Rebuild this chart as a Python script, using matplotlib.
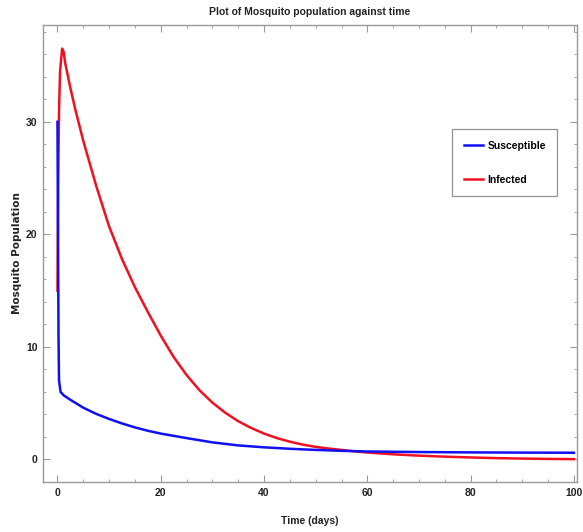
import matplotlib
matplotlib.use("Agg")
import matplotlib.pyplot as plt
from matplotlib.ticker import MultipleLocator

# Data
t_susceptible = [0, 0.1, 0.2, 0.3, 0.6, 1.2, 2.5, 5, 7.5, 10, 12.5, 15, 17.5, 20,
                 25, 30, 35, 40, 45, 50, 55, 60, 70, 80, 90, 100]
susceptible = [30, 20, 11, 7.0, 6.0, 5.7, 5.3, 4.6, 4.05, 3.6, 3.2, 2.85, 2.55, 2.3,
               1.9, 1.52, 1.25, 1.08, 0.95, 0.85, 0.77, 0.71, 0.66, 0.63, 0.61, 0.6]

t_infected = [0, 0.15, 0.3, 0.5, 0.9, 1.2, 1.5, 2.5, 3.5, 5, 7.5, 10, 12.5, 15, 17.5, 20,
              22.5, 25, 27.5, 30, 32.5, 35, 37.5, 40, 42.5, 45, 47.5, 50, 52.5, 55,
              57.5, 60, 65, 70, 75, 80, 85, 90, 95, 100]
infected = [15, 25, 31, 34.5, 36.5, 36.2, 35.2, 33.0, 31.0, 28.3, 24.3, 20.7, 17.8, 15.3,
            13.1, 11.0, 9.1, 7.5, 6.15, 5.05, 4.15, 3.4, 2.8, 2.3, 1.9, 1.58, 1.32, 1.12,
            0.97, 0.85, 0.72, 0.62, 0.46, 0.34, 0.25, 0.18, 0.12, 0.08, 0.05, 0.03]

x_ticks = [0, 20, 40, 60, 80, 100]
y_ticks = [0, 10, 20, 30]

plt.rcParams['font.family'] = ['Liberation Sans', 'DejaVu Sans']

fig = plt.figure(figsize=(5.83, 5.32), dpi=100)
ax = fig.add_axes([0.0738, 0.094, 0.9159, 0.859])

ax.plot(t_susceptible, susceptible, color='#1010f0', lw=1.8, label='Susceptible', zorder=3)
ax.plot(t_infected, infected, color='#f01020', lw=1.8, label='Infected', zorder=2)

ax.set_xlim(-2.8, 100.6)
ax.set_ylim(-2.0, 38.6)
ax.set_xticks(x_ticks)
ax.set_yticks(y_ticks)
ax.xaxis.set_minor_locator(MultipleLocator(5))
ax.yaxis.set_minor_locator(MultipleLocator(2))
ax.tick_params(which='both', direction='in', top=True, right=True, color='#999999')
ax.tick_params(which='major', length=5, width=0.8, labelsize=7.5, pad=4)
ax.tick_params(which='minor', length=2.5, width=0.6)
for lab in ax.get_xticklabels() + ax.get_yticklabels():
    lab.set_fontweight('bold')
    lab.set_color('#222222')
for s in ax.spines.values():
    s.set_color('#999999')
    s.set_linewidth(1.0)

ax.set_title('Plot of Mosquito population against time', fontsize=7.5,
             fontweight='bold', color='#222222', pad=7)
ax.set_xlabel('Time (days)', fontsize=7.5, fontweight='bold', color='#222222', labelpad=13)
ax.set_ylabel('Mosquito Population', fontsize=7.5, fontweight='bold', color='#222222',
              labelpad=3, family=['DejaVu Sans'])

leg = ax.legend(loc='upper left', bbox_to_anchor=(0.757, 0.783), frameon=True, fancybox=False,
                edgecolor='#777777', handlelength=1.8, handletextpad=0.45, borderpad=1.1,
                labelspacing=2.3, prop={'weight': 'bold', 'size': 7.5})
leg.get_frame().set_linewidth(0.9)

fig.savefig('out.png', dpi=100)
